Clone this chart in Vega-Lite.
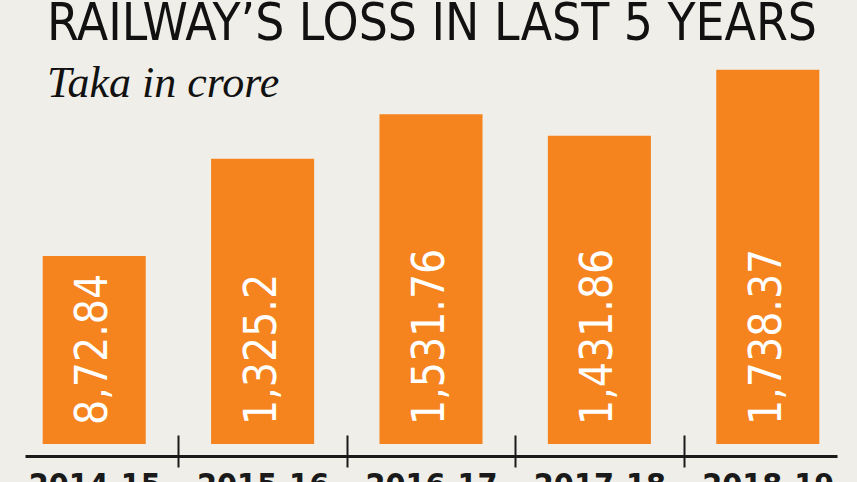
{
  "$schema": "https://vega.github.io/schema/vega-lite/v6.json",
  "width": 812,
  "height": 456,
  "autosize": {"type": "none"},
  "padding": {"left": 25, "top": 0, "right": 20, "bottom": 26},
  "background": "#f0eee8",
  "title": {
    "text": "RAILWAY’S LOSS IN LAST 5 YEARS",
    "subtitle": "Taka in crore",
    "anchor": "start",
    "frame": "group",
    "offset": -107,
    "dx": 22,
    "font": "DejaVu Sans Condensed",
    "fontSize": 51,
    "fontWeight": "normal",
    "color": "#111111",
    "subtitleFont": "Liberation Serif",
    "subtitleFontStyle": "italic",
    "subtitleFontSize": 44,
    "subtitleColor": "#111111",
    "subtitlePadding": 11
  },
  "config": {"view": {"stroke": null}},
  "data": {
    "values": [
      {"year": "2014-15", "loss": 872.84, "label": "8,72.84"},
      {"year": "2015-16", "loss": 1325.2, "label": "1,325.2"},
      {"year": "2016-17", "loss": 1531.76, "label": "1,531.76"},
      {"year": "2017-18", "loss": 1431.86, "label": "1,431.86"},
      {"year": "2018-19", "loss": 1738.37, "label": "1,738.37"}
    ]
  },
  "encoding": {
    "x": {
      "field": "year",
      "type": "ordinal",
      "sort": null,
      "scale": {"paddingInner": 0.388, "paddingOuter": 0.105},
      "axis": {
        "title": null,
        "labelAngle": 0,
        "domainColor": "#1a1a1a",
        "domainWidth": 3,
        "bandPosition": 0,
        "tickOffset": -32.7,
        "labelOffset": 32.7,
        "tickSize": 11,
        "tickWidth": 2,
        "tickColor": "#1a1a1a",
        "tickOpacity": {"condition": {"test": "datum.value === '2014-15'", "value": 0}, "value": 1},
        "grid": true,
        "gridColor": "#1a1a1a",
        "gridWidth": 2,
        "gridDash": [0, 435, 22, 100],
        "gridOpacity": {"condition": {"test": "datum.value === '2014-15'", "value": 0}, "value": 1},
        "labelFont": "DejaVu Sans Condensed",
        "labelFontWeight": "bold",
        "labelFontSize": 32,
        "labelColor": "#1a1a1a",
        "labelPadding": 3,
        "labelBaseline": "top"
      }
    }
  },
  "layer": [
    {
      "mark": {"type": "bar", "color": "#f5841f"},
      "encoding": {
        "y": {
          "field": "loss",
          "type": "quantitative",
          "scale": {"domain": [-56, 2063], "nice": false, "zero": false},
          "axis": null
        }
      }
    },
    {
      "mark": {
        "type": "text",
        "angle": 270,
        "align": "left",
        "baseline": "middle",
        "dx": 19,
        "font": "DejaVu Sans Condensed",
        "fontSize": 44,
        "color": "#ffffff"
      },
      "encoding": {
        "y": {"datum": 0, "type": "quantitative"},
        "text": {"field": "label"}
      }
    }
  ]
}
